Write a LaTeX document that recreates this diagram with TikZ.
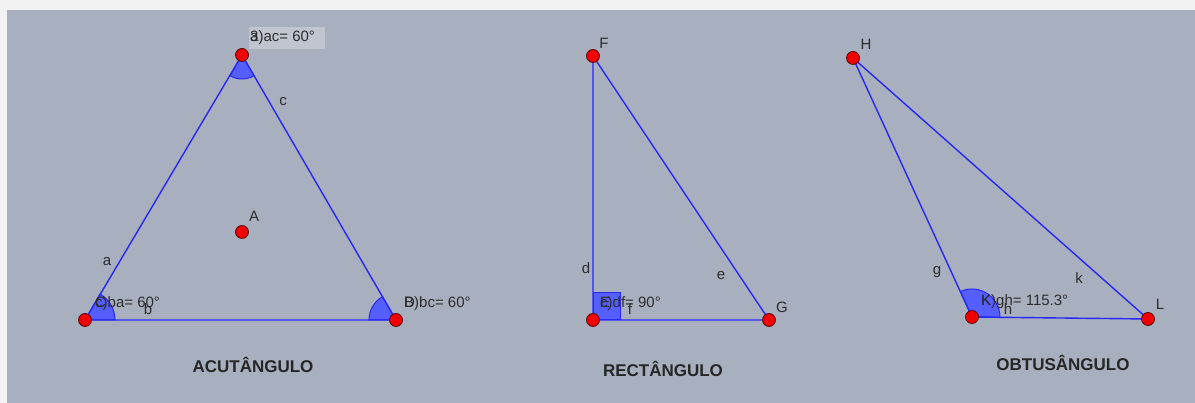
\documentclass[tikz,border=0pt]{standalone}
\usepackage{fontspec}
\setmainfont{Liberation Sans}
\definecolor{bg}{RGB}{168,175,190}
\definecolor{lbox}{RGB}{192,197,207}
\definecolor{ln}{RGB}{40,40,245}
\definecolor{angf}{RGB}{85,95,255}
\definecolor{txt}{RGB}{45,45,45}
\definecolor{pt}{RGB}{240,0,0}
\begin{document}
\begin{tikzpicture}[x=1pt,y=1pt,
  seg/.style={draw=ln,line width=1.4pt},
  angfill/.style={fill=angf,draw=ln,line width=1pt},
  dot/.style={circle,fill=pt,draw=black!70!red,line width=0.7pt,minimum size=13pt,inner sep=0pt},
  lab/.style={text=txt,font=\fontsize{15}{15}\selectfont,inner sep=0pt},
  title/.style={text=black!85,font=\fontsize{17}{17}\selectfont\bfseries,inner sep=0pt}]
\useasboundingbox (0,0) rectangle (1195,403);
\fill[white!95!black] (0,0) rectangle (1195,403);
\fill[bg] (7,0) rectangle (1195,393);
% coordinates
\coordinate (C) at (85,83);
\coordinate (Ap) at (242,348);
\coordinate (Bp) at (396,83);
\coordinate (F) at (593,347);
\coordinate (E) at (593,83);
\coordinate (G) at (769,83);
\coordinate (H) at (853,345);
\coordinate (K) at (972,86);
\coordinate (L) at (1148,84);
% angle fills
\path[angfill] (C) -- ++(0:30pt) arc[start angle=0,end angle=60,radius=30pt] -- cycle;
\path[angfill] (Ap) -- ++(240:24pt) arc[start angle=240,end angle=300,radius=24pt] -- cycle;
\path[angfill] (Bp) -- ++(120:27pt) arc[start angle=120,end angle=180,radius=27pt] -- cycle;
\path[angfill] (E) rectangle ++(27,27);
\path[angfill] (K) -- ++(-0.65:28pt) arc[start angle=-0.65,end angle=114.7,radius=28pt] -- cycle;
% sides
\draw[seg] (C) -- (Ap) -- (Bp) -- cycle;
\draw[seg] (F) -- (E) -- (G) -- cycle;
\draw[seg] (H) -- (K) -- (L) -- cycle;
% apex label box
\fill[lbox] (249,354) rectangle (325,376);
% labels
\node[lab,anchor=west] (lba) at (95,99) {\rlap{C}c)ba= 60°};
\node[lab] (lb) at (148,94) {b};
\node[lab,anchor=west] (lbc) at (404,99) {\rlap{D}B)bc= 60°};
\node[lab,anchor=west] (lac) at (250,365) {\rlap{a}3)ac= 60°};
\node[lab] (la) at (107,141) {a};
\node[lab] (lc) at (283,301) {c};
\node[lab] (lA) at (254,187) {A};
\node[lab] (lF) at (604,360) {F};
\node[lab] (lG) at (782,96) {G};
\node[lab] (ld) at (586,135) {d};
\node[lab] (le) at (721,127) {e};
\node[lab,anchor=west] (ldf) at (600,99) {\rlap{E}c)df= 90°};
\node[lab] (lf) at (630,94) {f};
\node[lab] (lH) at (866,359) {H};
\node[lab] (lL) at (1160,99) {L};
\node[lab] (lg) at (937,131) {g};
\node[lab] (lk) at (1079,125) {k};
\node[lab,anchor=west] (lgh) at (981,101) {\rlap{K}K)gh= 115.3°};
\node[lab] (lh) at (1008,94) {h};
% titles
\node[title] (t1) at (253,38) {ACUTÂNGULO};
\node[title] (t2) at (663,34) {RECTÂNGULO};
\node[title] (t3) at (1063,40) {OBTUSÂNGULO};
% points
\node[dot] (pC) at (C) {};
\node[dot] (pAp) at (Ap) {};
\node[dot] (pBp) at (Bp) {};
\node[dot] (pA) at (242,171) {};
\node[dot] (pF) at (F) {};
\node[dot] (pE) at (E) {};
\node[dot] (pG) at (G) {};
\node[dot] (pH) at (H) {};
\node[dot] (pK) at (K) {};
\node[dot] (pL) at (L) {};
\end{tikzpicture}
\end{document}
